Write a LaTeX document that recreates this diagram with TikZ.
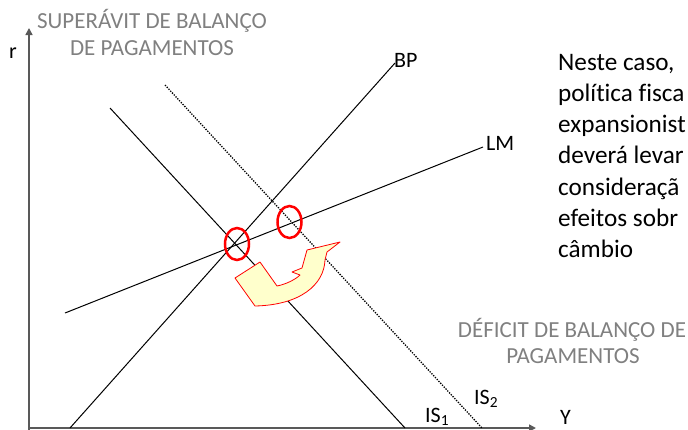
\documentclass[tikz,border=0pt]{standalone}
\usepackage{fontspec}
\setmainfont{Carlito}[Ligatures=NoCommon]
\usetikzlibrary{arrows.meta,positioning}
\definecolor{cinza}{RGB}{128,128,128}
\definecolor{amarelo}{RGB}{255,255,204}
\tikzset{
  eixo/.style={draw=black!65,line width=1.6pt,-{Triangle[length=7pt,width=7pt]}},
  curva/.style={line width=1pt},
  curvapont/.style={line width=1.3pt,dash pattern=on 1.3pt off 1.3pt},
  rotulo/.style={inner sep=0pt,font=\fontsize{22}{26}\selectfont},
  aviso/.style={inner sep=0pt,anchor=base,text=cinza,font=\fontsize{23}{26}\selectfont},
  texto/.style={inner sep=0pt,anchor=base west,font=\fontsize{25.2}{31}\selectfont},
  circulo/.style={draw=red,line width=2.5pt},
  seta/.style={draw=red,fill=amarelo,line width=0.8pt,line join=round},
}

\begin{document}
\begin{tikzpicture}[x=1pt,y=-1pt]
  \useasboundingbox (0,0) rectangle (688,429);
  \clip (0,0) rectangle (688,429);
  % eixos
  \coordinate (O) at (29,428);
  \coordinate (rtopo) at (29,28);
  \coordinate (yfim) at (536,428);
  \draw[eixo] (29,430) -- (rtopo);
  \draw[eixo] (28,428) -- (yfim);
  \node[rotulo,anchor=base] (r) at (13,58) {r};
  \node[rotulo,anchor=base west] (Y) at (560,424) {Y};
  % curvas
  \coordinate (bp0) at (70,428);   \coordinate (bp1) at (395,63);
  \coordinate (lm0) at (65,313);   \coordinate (lm1) at (483,147);
  \coordinate (is1a) at (110,108); \coordinate (is1b) at (405,428);
  \coordinate (is2a) at (165,85);  \coordinate (is2b) at (482,428);
  \draw[curva] (bp0) -- (bp1);
  \draw[curva] (lm0) -- (lm1);
  \draw[curva] (is1a) -- (is1b);
  \draw[curvapont] (is2a) -- (is2b);
  \node[rotulo,anchor=base west] (BP) at (394,67) {BP};
  \node[rotulo,anchor=base west] (LM) at (486,150) {LM};
  \node[rotulo,anchor=base west] (IS2) at (474,404) {IS\textsubscript{2}};
  \node[rotulo,anchor=base west] (IS1) at (425,422) {IS\textsubscript{1}};
  % equilibrios
  \draw[circulo] (237,244) ellipse (12 and 16);
  \draw[circulo] (289.5,222) ellipse (12 and 16);
  % seta curva
  \draw[seta] (235,278) -- (260,262) -- (277,286)
    .. controls (287,284) and (296,279) .. (300,275) -- (292,272) -- (302,268)
    -- (307,250) -- (340,242) -- (327,252) -- (325,260)
    .. controls (324,285) and (300,305) .. (255,306) -- cycle;
  % balanco de pagamentos
  \node[aviso] (sup1) at (152,28) {SUPERÁVIT DE BALANÇO};
  \node[aviso] (sup2) at (152,55) {DE PAGAMENTOS};
  \node[aviso] (def1) at (572,337) {DÉFICIT DE BALANÇO DE};
  \node[aviso] (def2) at (573,363) {PAGAMENTOS};
  % texto
  \foreach \linha [count=\i from 0] in {{Neste caso,},{política fisca},{expansionist},
      {deverá levar},{consideraçã},{efeitos sobr},{câmbio}}
    \node[texto] (texto\i) at (558,70+31.3*\i) {\linha};
\end{tikzpicture}
\end{document}
